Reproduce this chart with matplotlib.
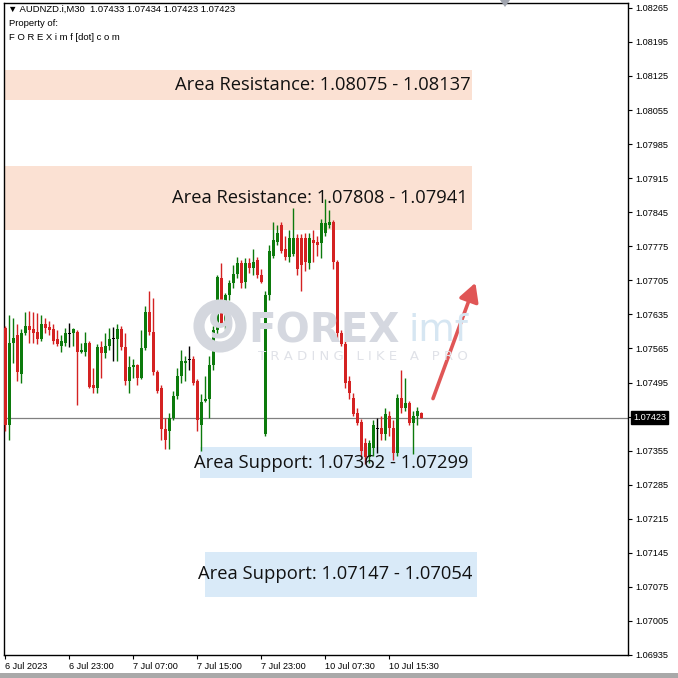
import matplotlib
matplotlib.use("Agg")
import matplotlib.pyplot as plt
import matplotlib.patches as mpatches
import matplotlib.transforms as mtransforms
import numpy as np

# ---------------- data ----------------
opens = [1.07608, 1.07407, 1.07577, 1.07592, 1.07513, 1.07596, 1.07612, 1.07606, 1.07598, 1.07585,
         1.07616, 1.07610, 1.07604, 1.07585, 1.07571, 1.07577, 1.07594, 1.07596, 1.07598, 1.07557,
         1.07557, 1.07577, 1.07489, 1.07483, 1.07567, 1.07555, 1.07571, 1.07585, 1.07585, 1.07606,
         1.07567, 1.07499, 1.07526, 1.07530, 1.07505, 1.07565, 1.07639, 1.07598, 1.07516, 1.07483,
         1.07400, 1.07396, 1.07423, 1.07468, 1.07509, 1.07536, 1.07542, 1.07544, 1.07499, 1.07407,
         1.07458, 1.07462, 1.07530, 1.07602, 1.07709, 1.07612, 1.07674, 1.07699, 1.07719, 1.07740,
         1.07701, 1.07740, 1.07731, 1.07746, 1.07715, 1.07390, 1.07674, 1.07756, 1.07783, 1.07818,
         1.07770, 1.07752, 1.07760, 1.07793, 1.07793, 1.07793, 1.07740, 1.07787, 1.07783, 1.07781,
         1.07803, 1.07818, 1.07824, 1.07742, 1.07596, 1.07575, 1.07499, 1.07464, 1.07433, 1.07413,
         1.07370, 1.07341, 1.07361, 1.07400, 1.07402, 1.07390, 1.07427, 1.07402, 1.07351, 1.07464,
         1.07442, 1.07452, 1.07411, 1.07427, 1.07433]
highs = [1.07612, 1.07633, 1.07627, 1.07616, 1.07606, 1.07639, 1.07643, 1.07639, 1.07637, 1.07633,
         1.07627, 1.07622, 1.07616, 1.07602, 1.07592, 1.07608, 1.07618, 1.07608, 1.07602, 1.07577,
         1.07598, 1.07581, 1.07524, 1.07575, 1.07581, 1.07596, 1.07608, 1.07610, 1.07616, 1.07612,
         1.07596, 1.07550, 1.07544, 1.07534, 1.07602, 1.07653, 1.07684, 1.07668, 1.07520, 1.07489,
         1.07423, 1.07433, 1.07478, 1.07524, 1.07561, 1.07550, 1.07571, 1.07550, 1.07503, 1.07472,
         1.07509, 1.07550, 1.07612, 1.07715, 1.07740, 1.07678, 1.07705, 1.07736, 1.07752, 1.07746,
         1.07750, 1.07750, 1.07770, 1.07752, 1.07729, 1.07684, 1.07777, 1.07824, 1.07818, 1.07824,
         1.07797, 1.07808, 1.07853, 1.07801, 1.07801, 1.07803, 1.07803, 1.07808, 1.07797, 1.07832,
         1.07873, 1.07849, 1.07828, 1.07746, 1.07602, 1.07581, 1.07509, 1.07474, 1.07442, 1.07421,
         1.07380, 1.07376, 1.07417, 1.07423, 1.07427, 1.07442, 1.07437, 1.07417, 1.07472, 1.07520,
         1.07505, 1.07458, 1.07437, 1.07444, 1.07434]
lows = [1.07396, 1.07376, 1.07536, 1.07499, 1.07495, 1.07592, 1.07577, 1.07577, 1.07575, 1.07581,
        1.07596, 1.07592, 1.07575, 1.07571, 1.07557, 1.07571, 1.07567, 1.07571, 1.07448, 1.07555,
        1.07550, 1.07483, 1.07474, 1.07474, 1.07505, 1.07546, 1.07561, 1.07540, 1.07540, 1.07561,
        1.07489, 1.07474, 1.07505, 1.07489, 1.07503, 1.07561, 1.07592, 1.07511, 1.07474, 1.07376,
        1.07359, 1.07359, 1.07417, 1.07462, 1.07495, 1.07499, 1.07520, 1.07489, 1.07396, 1.07355,
        1.07454, 1.07423, 1.07520, 1.07592, 1.07612, 1.07606, 1.07664, 1.07690, 1.07709, 1.07690,
        1.07690, 1.07721, 1.07715, 1.07709, 1.07699, 1.07386, 1.07664, 1.07750, 1.07777, 1.07762,
        1.07746, 1.07742, 1.07756, 1.07715, 1.07684, 1.07725, 1.07729, 1.07742, 1.07756, 1.07750,
        1.07797, 1.07812, 1.07729, 1.07581, 1.07571, 1.07483, 1.07462, 1.07427, 1.07407, 1.07345,
        1.07328, 1.07330, 1.07345, 1.07351, 1.07376, 1.07376, 1.07386, 1.07335, 1.07345, 1.07433,
        1.07437, 1.07407, 1.07349, 1.07407, 1.07423]
closes = [1.07407, 1.07577, 1.07587, 1.07516, 1.07596, 1.07612, 1.07602, 1.07596, 1.07585, 1.07616,
          1.07608, 1.07602, 1.07581, 1.07575, 1.07581, 1.07596, 1.07594, 1.07606, 1.07557, 1.07561,
          1.07577, 1.07485, 1.07483, 1.07567, 1.07555, 1.07571, 1.07585, 1.07585, 1.07606, 1.07567,
          1.07499, 1.07526, 1.07530, 1.07505, 1.07565, 1.07639, 1.07598, 1.07516, 1.07478, 1.07400,
          1.07376, 1.07423, 1.07468, 1.07509, 1.07540, 1.07540, 1.07542, 1.07495, 1.07417, 1.07454,
          1.07462, 1.07530, 1.07602, 1.07711, 1.07616, 1.07674, 1.07699, 1.07719, 1.07740, 1.07699,
          1.07740, 1.07731, 1.07742, 1.07715, 1.07701, 1.07674, 1.07766, 1.07787, 1.07803, 1.07766,
          1.07752, 1.07793, 1.07793, 1.07729, 1.07736, 1.07742, 1.07793, 1.07781, 1.07777, 1.07822,
          1.07822, 1.07824, 1.07742, 1.07596, 1.07575, 1.07495, 1.07474, 1.07431, 1.07411, 1.07355,
          1.07341, 1.07370, 1.07407, 1.07400, 1.07390, 1.07431, 1.07402, 1.07351, 1.07464, 1.07442,
          1.07452, 1.07411, 1.07427, 1.07437, 1.07423]

last_price = 1.07423
y_ticks = [1.08265, 1.08195, 1.08125, 1.08055, 1.07985, 1.07915, 1.07845, 1.07775, 1.07705,
           1.07635, 1.07565, 1.07495, 1.07425, 1.07355, 1.07285, 1.07215, 1.07145, 1.07075,
           1.07005, 1.06935]
x_tick_bars = [0, 16, 32, 48, 64, 80, 96]
x_tick_labels = ["6 Jul 2023", "6 Jul 23:00", "7 Jul 07:00", "7 Jul 15:00",
                 "7 Jul 23:00", "10 Jul 07:30", "10 Jul 15:30"]

resistance_zones = [(1.08075, 1.08137), (1.07808, 1.07941)]
support_zones = [(1.07362, 1.07299), (1.07147, 1.07054)]
zone_names = ["Area Resistance", "Area Resistance", "Area Support", "Area Support"]

# ---------------- figure ----------------
W = H = 678
SMALL = "Liberation Sans"
fig = plt.figure(figsize=(W / 100, H / 100), dpi=100)
fig.patch.set_facecolor("white")
ax = fig.add_axes([4 / W, 1 - 655 / H, (628 - 4) / W, (655 - 3) / H])
ax.set_facecolor("white")

ax.set_xlim(-0.25, 155.75)
ax.set_ylim(1.06935, 1.08275)

GREEN = "#0c7a0c"
RED = "#d42222"

# zones (behind candles)
zone_x = [(-0.25, 116.75), (-0.25, 116.75), (48.75, 116.75), (50.0, 118.0)]
zone_cols = ["#fbe1d3", "#fbe1d3", "#d9eaf8", "#d9eaf8"]
all_zones = resistance_zones + support_zones
for (x0, x1), (a, b), col in zip(zone_x, all_zones, zone_cols):
    ax.add_patch(mpatches.Rectangle((x0, min(a, b)), x1 - x0, abs(b - a),
                                    facecolor=col, edgecolor="none", zorder=1))

# watermark
circ = mpatches.Circle((220 / W, 1 - 326 / H), 21 / W, transform=fig.transFigure,
                       facecolor="none", edgecolor="#d4d7de", lw=8, zorder=2)
fig.add_artist(circ)
fig.text(221 / W, 1 - 328 / H, "9", fontsize=28, fontweight="bold", color="#d4d7de",
         ha="center", va="center", zorder=2)
fig.text(248 / W, 1 - 331 / H, "FOREX", fontsize=29, fontweight="bold", color="#d5d8e0",
         ha="left", va="center", zorder=2)
fig.text(408 / W, 1 - 331 / H, "imf", fontsize=27, color="#d6e6f2",
         ha="left", va="center", zorder=2)
fig.text(258 / W, 1 - 357 / H, "T R A D I N G   L I K E   A   P R O", fontsize=9.5,
         color="#e0e2e8", ha="left", va="center", zorder=2)

# last price line
ax.axhline(last_price, color="#808080", lw=0.9, zorder=2)

# candles
x = np.arange(len(opens))
o = np.array(opens); h = np.array(highs); l = np.array(lows); c = np.array(closes)
cols = np.where(c > o, GREEN, np.where(c < o, RED, "black"))
ax.vlines(x, l, h, colors=cols, lw=1.0, zorder=3)
body_bot = np.minimum(o, c)
body_h = np.maximum(np.abs(c - o), 0.000018)
ax.bar(x, body_h, bottom=body_bot, width=0.75, color=cols, linewidth=0, zorder=4)

# zone labels
label_x = [116.3, 115.6, 115.8, 116.8]
for xr, (a, b), name in zip(label_x, all_zones, zone_names):
    ax.text(xr, (a + b) / 2, f"{name}: {a:.5f} - {b:.5f}", ha="right", va="center",
            fontsize=13.2, family="Open Sans", color="#111111", zorder=6)

# arrow
ax.annotate("", xy=(117.6, 1.07700), xytext=(107.0, 1.07462),
            arrowprops=dict(arrowstyle="-|>,head_length=0.55,head_width=0.3", color="#e05656",
                            lw=2.6, mutation_scale=20, shrinkA=0, shrinkB=0), zorder=6)

# axes styling
for sp in ax.spines.values():
    sp.set_color("black")
    sp.set_linewidth(1.0)
ax.yaxis.tick_right()
ax.set_yticks(y_ticks)
ax.set_yticklabels([f"{v:.5f}" for v in y_ticks], family=SMALL)
ax.tick_params(axis="y", direction="out", length=3, width=0.8, pad=2,
               labelsize=6.6, colors="black")
ax.set_xticks(x_tick_bars)
ax.set_xticklabels(x_tick_labels, ha="left", family=SMALL)
ax.tick_params(axis="x", direction="out", length=3, width=0.8, pad=2,
               labelsize=6.6, colors="black")

# last price label on axis
offset = mtransforms.offset_copy(ax.get_yaxis_transform(), fig=fig, x=5, y=0, units="dots")
ax.text(1.0, last_price, f"{last_price:.5f}", transform=offset,
        ha="left", va="center", fontsize=6.6, family=SMALL, color="white", zorder=10,
        bbox=dict(boxstyle="square,pad=0.2", facecolor="black", edgecolor="black"),
        clip_on=False)
for t, v in zip(ax.get_yticklabels(), y_ticks):
    if abs(v - last_price) < 0.0002:
        t.set_visible(False)

# header texts
fig.text(8 / W, 1 - 9 / H, "\u25BC AUDNZD.i,M30  1.07433 1.07434 1.07423 1.07423",
         fontsize=6.8, family=[SMALL, "DejaVu Sans"], ha="left", va="center", color="black")
fig.text(9 / W, 1 - 24 / H, "Property of:", fontsize=6.8, family=SMALL, ha="left", va="center")
fig.text(9 / W, 1 - 37 / H, "F O R E X i m f [dot] c o m", fontsize=6.8, family=SMALL,
         ha="left", va="center")

# window frame
fig.add_artist(mpatches.Rectangle((0, 0), 1, 5 / H, transform=fig.transFigure,
                                  facecolor="#a9a9a9", edgecolor="none"))
fig.add_artist(mpatches.Polygon([[500 / W, 1], [510 / W, 1], [505 / W, 1 - 7 / H]],
                                closed=True, transform=fig.transFigure,
                                facecolor="#a0a4ae", edgecolor="none"))

fig.savefig("out.png", dpi=100)
